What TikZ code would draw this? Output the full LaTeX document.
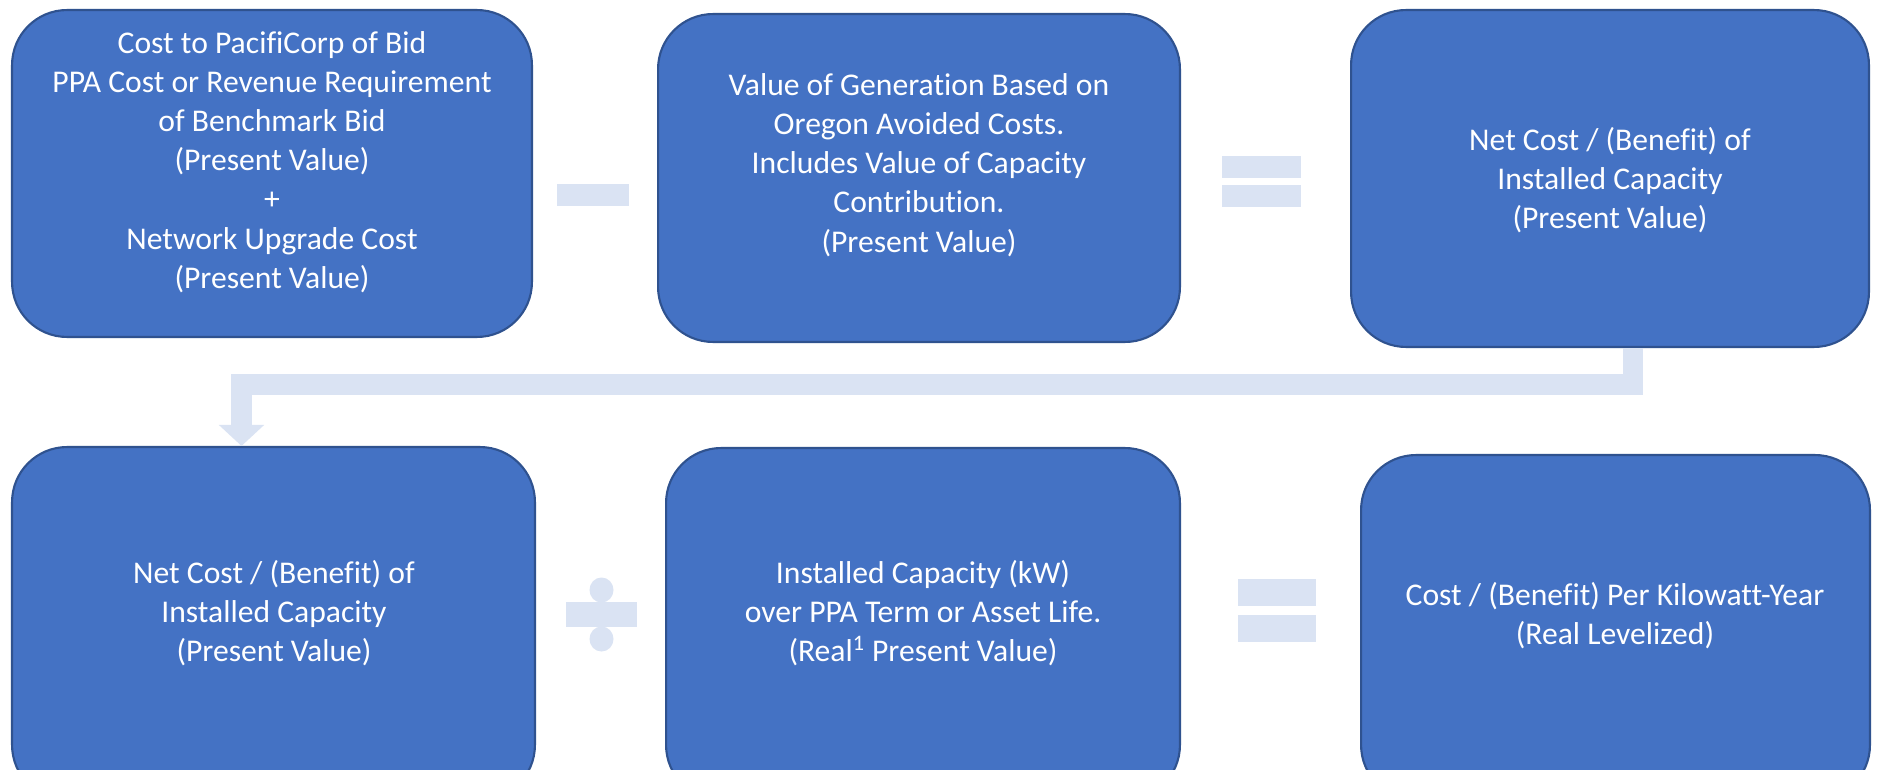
\documentclass[tikz,border=0pt]{standalone}
\usepackage{fontspec}
\setmainfont{Carlito}[RawFeature={-liga;-clig;-dlig}]
\usetikzlibrary{arrows.meta}
\definecolor{boxfill}{HTML}{4472C4}
\definecolor{boxline}{HTML}{2F528F}
\definecolor{light}{HTML}{DAE3F3}
\tikzset{
  box/.style={draw=boxline, line width=1.2pt, fill=boxfill, rounded corners=1.1cm, inner sep=0pt},
  txt/.style={text=white, align=center, inner sep=0pt, font=\fontsize{18}{22.3}\selectfont},
  conn/.style={draw=light, line width=0.41cm, line cap=butt, line join=miter},
  op/.style={fill=light},
}
\begin{document}
\begin{tikzpicture}[x=0.02cm, y=-0.02cm]
\useasboundingbox (0,0) rectangle (1885,770);
\clip (0,0) rectangle (1885,770);
\fill[white] (0,0) rectangle (1885,770);

% boxes
\node[box, minimum width=10.4cm, minimum height=6.54cm] (b1) at (272,173.5) {};
\node[box, minimum width=10.44cm, minimum height=6.56cm] (b2) at (919,178) {};
\node[box, minimum width=10.36cm, minimum height=6.74cm] (b3) at (1610,178.5) {};
\node[box, minimum width=10.46cm, minimum height=7.06cm] (b4) at (273.5,623.5) {};
\node[box, minimum width=10.28cm, minimum height=7.04cm] (b5) at (923,624) {};
\node[box, minimum width=10.18cm, minimum height=6.9cm] (b6) at (1615.5,627.5) {};

% connector
\coordinate (bend) at (0,384.5);
\coordinate (s) at ([xshift=0.46cm]b3.south);
\coordinate (e) at ([xshift=-0.64cm]b4.north);
\draw[conn, -{Triangle[length=0.42cm, width=0.88cm]}] (s) -- (s |- bend) -| (e);

% texts
\node[txt] (t1) at (272,162) {Cost to PacifiCorp of Bid\\PPA Cost or Revenue Requirement\\of Benchmark Bid\\(Present Value)\\+\\Network Upgrade Cost\\(Present Value)};
\node[txt] (t2) at (919,165) {Value of Generation Based on\\Oregon Avoided Costs.\\Includes Value of Capacity\\Contribution.\\(Present Value)};
\node[txt] (t3) at (1610,180) {Net Cost / (Benefit) of\\Installed Capacity\\(Present Value)};
\node[txt] (t4) at (274,613) {Net Cost / (Benefit) of\\Installed Capacity\\(Present Value)};
\node[txt] (t5) at (923,613) {Installed Capacity (kW)\\over PPA Term or Asset Life.\\(Real\textsuperscript{1} Present Value)};
\node[txt] (t6) at (1615,616) {Cost / (Benefit) Per Kilowatt-Year\\(Real Levelized)};

% operators
\fill[op] (557,184) rectangle (629,206);
\fill[op] (1222,156) rectangle (1301,178);
\fill[op] (1222,185) rectangle (1301,207);
\fill[op] (566,602) rectangle (637,627);
\fill[op] (601.5,590) ellipse [x radius=12, y radius=12.5];
\fill[op] (601.5,639) ellipse [x radius=12, y radius=12.5];
\fill[op] (1238,579) rectangle (1316,606);
\fill[op] (1238,615) rectangle (1316,642);
\end{tikzpicture}
\end{document}
